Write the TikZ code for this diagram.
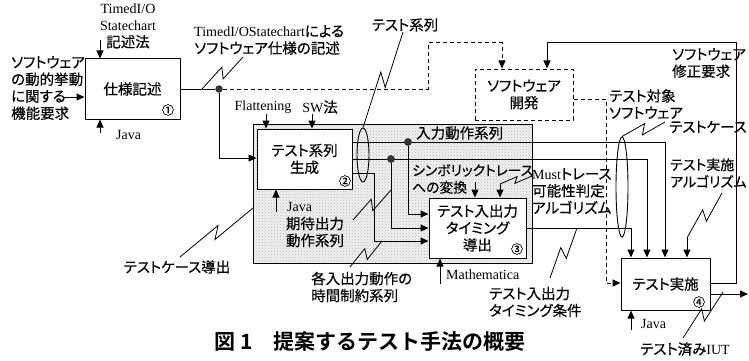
\documentclass[tikz,border=0pt]{standalone}
\usepackage{fontspec}
\setmainfont{Noto Sans CJK JP}[RawFeature={+palt;embolden=0.4}]
\newfontfamily\tmfont{Liberation Serif}
\newfontfamily\capfont{Noto Sans CJK JP Bold}
\newcommand{\latn}[1]{{\tmfont\fontsize{14}{17}\selectfont #1}}
\usetikzlibrary{arrows.meta,calc,shapes.geometric,patterns}
\newcommand{\bolt}[3][5]{\draw[boltline] (#2) -- ($(#2)!0.56!(#3)!#1pt!90:(#3)$) -- ($(#2)!0.44!(#3)!#1pt!-90:(#3)$) -- (#3);}
\tikzset{
  box/.style={draw, fill=white, line width=1pt, inner sep=0pt, align=center},
  lbl/.style={inner sep=0pt, align=left},
  clbl/.style={inner sep=0pt, align=center},
  boltline/.style={line width=0.8pt},
  conn/.style={line width=1pt},
  dotnode/.style={circle, fill=black!80, inner sep=0pt, minimum size=7.5pt},
  ell/.style={draw, ellipse, line width=0.9pt, inner sep=0pt},
  num/.style={inner sep=0pt, font=\fontsize{12}{12}\selectfont},
}
\begin{document}
\begin{tikzpicture}[x=1pt,y=-1pt, font=\fontsize{14.5}{17}\selectfont,
  >={Triangle[length=8pt,width=7pt]}]
\useasboundingbox (0,0) rectangle (749,361);

% shaded region
\fill[black!6] (253,124) rectangle (532,263);
\fill[pattern=crosshatch dots, pattern color=black!28] (253,124) rectangle (532,263);
\draw[line width=0.9pt] (253,124) rectangle (532,263);

% boxes
\node[box, minimum width=95pt, minimum height=60pt] (b1) at (132.5,89) {仕様記述};
\node[box, minimum width=95pt, minimum height=60pt] (b2) at (304.5,159) {テスト系列\\生成};
\node[box, minimum width=97pt, minimum height=60pt] (b3) at (477.5,228) {テスト入出力\\タイミング\\導出};
\node[box, minimum width=89pt, minimum height=52pt] (b4) at (665.5,284) {テスト実施};
\node[box, dashed, dash pattern=on 4pt off 3pt, minimum width=98pt, minimum height=51pt] (sd) at (524,94.5) {ソフトウェア\\開発};

\node[num] (n1) at (168,110) {①};
\node[num] (n2) at (345,181) {②};
\node[num] (n3) at (517,249) {③};
\node[num] (n4) at (699,302) {④};

% labels
\node[lbl, anchor=west] (lin) at (11,88) {ソフトウェア\\の動的挙動\\に関する\\機能要求};
\node[clbl] (lctl1) at (128,26) {\latn{TimedI/O}\\\latn{Statechart}\\記述法};
\node[lbl, anchor=west] (ljava1) at (116,135) {\latn{Java}};
\node[lbl, anchor=west] (lspec) at (194,40) {\latn{TimedI/OStatechart}による\\ソフトウェア仕様の記述};
\node[clbl] (lts) at (405,25) {テスト系列};
\node[clbl] (lflat) at (263,107) {\latn{Flattening}};
\node[clbl] (lsw) at (320,107) {\latn{SW}法};
\node[lbl, anchor=west] (ljava2) at (287,207) {\latn{Java}};
\node[lbl, anchor=west] (lin2) at (416,133) {入力動作系列};
\node[lbl, anchor=west, font=\fontsize{13.8}{17}\selectfont] (lsym) at (412,179) {シンボリックトレース\\への変換};
\node[lbl, anchor=west] (lmust) at (532,191) {\latn{Must}トレース\\可能性判定\\アルゴリズム};
\node[clbl] (lexp) at (315,232) {期待出力\\動作系列};
\node[lbl, anchor=west] (ltime) at (311,287) {各入出力動作の\\時間制約系列};
\node[clbl] (ltcd) at (177,267) {テストケース導出};
\node[lbl, anchor=west] (lmath) at (446,275) {\latn{Mathematica}};
\node[lbl, anchor=west] (ltio) at (489,302) {テスト入出力\\タイミング条件};
\node[lbl, anchor=west, font=\fontsize{14}{17}\selectfont] (lalg) at (670,173) {テスト実施\\アルゴリズム};
\node[lbl, anchor=west] (ltc) at (669,127) {テストケース};
\node[lbl, anchor=west] (ltgt) at (609,104) {テスト対象\\ソフトウェア};
\node[lbl, anchor=west] (lmod) at (672,63) {ソフトウェア\\修正要求};
\node[lbl, anchor=west] (ljava4) at (641,324) {\latn{Java}};
\node[clbl] (liut) at (685,349) {テスト済み\latn{IUT}};
\node[clbl, font=\capfont\fontsize{21}{21}\selectfont] (cap) at (370,342) {図 1　提案するテスト手法の概要};

% coordinates
\coordinate (in1) at (63,97);
\coordinate (c1t) at (100,40);
\coordinate (m1b) at (100,133);
\node[dotnode] (d1) at (219,89) {};
\coordinate (k1) at (219,158);
\coordinate (g1) at (428,89);
\coordinate (g2) at (428,43);
\coordinate (g3) at (502,43);
\coordinate (ft) at (266,114);
\coordinate (swt) at (312,114);
\coordinate (m2b) at (276,212);
\coordinate (y142) at (665,142);
\coordinate (y159) at (647,159);
\coordinate (y173) at (374,173);
\coordinate (y241) at (374,241);
\node[dotnode] (dot2) at (408,142) {};
\node[dotnode] (dot3) at (391,159) {};
\coordinate (a214) at (408,214);
\coordinate (a228) at (391,228);
\coordinate (s1t) at (475,182);
\coordinate (s2t) at (500,184);
\coordinate (m3b) at (440,284);
\coordinate (o3) at (631,228);
\coordinate (f1) at (736,283);
\coordinate (f2) at (736,43);
\coordinate (f3) at (547,43);
\coordinate (out) at (748,294);
\coordinate (h1) at (606,99);
\coordinate (h2) at (606,283);
\coordinate (alg) at (687,238);
\coordinate (m4b) at (631,330);

% connectors
\draw[conn,->] (in1) -- (b1.west |- in1);
\draw[conn,->] (c1t) -- (c1t |- b1.north);
\draw[conn,->] (m1b) -- (m1b |- b1.south);
\draw[conn] (b1.east |- d1) -- (d1);
\draw[conn,->] (d1) -- (k1) -- (b2.west |- k1);
\draw[conn,dashed,dash pattern=on 4pt off 3pt,->] (d1) -- (g1) -- (g2) -- (g3) -- (g3 |- sd.north);
\draw[conn,->] (ft) -- (ft |- b2.north);
\draw[conn,->] (swt) -- (swt |- b2.north);
\draw[conn,->] (m2b) -- (m2b |- b2.south);
\draw[conn,->] (b2.east |- y142) -- (y142) -- (y142 |- b4.north);
\draw[conn,->] (b2.east |- y159) -- (y159) -- (y159 |- b4.north);
\draw[conn,->] (b2.east |- y173) -- (y173) -- (y241) -- (b3.west |- y241);
\draw[conn,->] (dot2) -- (a214) -- (b3.west |- a214);
\draw[conn,->] (dot3) -- (a228) -- (b3.west |- a228);
\draw[conn,->] (s1t) -- (s1t |- b3.north);
\draw[conn,->] (s2t) -- (s2t |- b3.north);
\draw[conn,->] (m3b) -- (m3b |- b3.south);
\draw[conn,->] (b3.east |- o3) -- (o3) -- (o3 |- b4.north);
\draw[conn,->] (b4.east |- f1) -- (f1) -- (f2) -- (f3) -- (f3 |- sd.north);
\draw[conn,->] (b4.east |- out) -- (out);
\draw[conn,dashed,dash pattern=on 4pt off 3pt,->] (sd.east |- h1) -- (h1) -- (h2) -- (b4.west |- h2);
\draw[conn,->] (alg) -- (alg |- b4.north);
\draw[conn,->] (m4b) -- (m4b |- b4.south);
\node[dotnode] at (dot2) {};
\node[dotnode] at (dot3) {};

% ellipses
\node[ell, minimum width=12pt, minimum height=54pt] (e1) at (363,155) {};
\node[ell, minimum width=12pt, minimum height=100pt] (e2) at (622,187) {};

% squiggles
\coordinate (q1a) at (243,57);  \coordinate (q1b) at (202,89);
\bolt{q1b}{q1a}
\coordinate (q2a) at (403,32);
\bolt{q2a}{e1.north}
\coordinate (q3a) at (180,257); \coordinate (q3b) at (253,208);
\bolt{q3a}{q3b}
\coordinate (q4a) at (353,220); \coordinate (q4b) at (391,190);
\bolt{q4a}{q4b}
\coordinate (q5a) at (350,267); \coordinate (q5b) at (382,241);
\bolt{q5a}{q5b}
\coordinate (q6a) at (550,278); \coordinate (q6b) at (577,228);
\bolt{q6a}{q6b}
\coordinate (q7a) at (722,193);
\bolt{q7a}{alg}
\coordinate (q8a) at (665,122);
\bolt{q8a}{e2.north}
\coordinate (q9a) at (683,338); \coordinate (q9b) at (723,292);
\bolt{q9a}{q9b}
\coordinate (q10a) at (532,176);
\bolt[3]{q10a}{s2t}
\end{tikzpicture}
\end{document}
